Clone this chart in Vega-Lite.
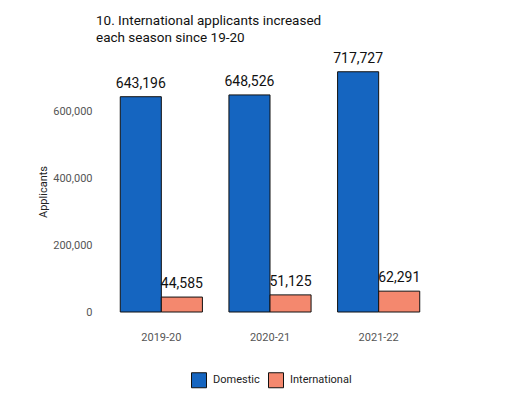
{
  "$schema": "https://vega.github.io/schema/vega-lite/v6.json",
  "autosize": {"type": "none"},
  "padding": {"left": 107, "top": 71, "right": 91, "bottom": 93},
  "width": 326,
  "height": 241,
  "title": {
    "text": ["10. International applicants increased", "each season since 19-20"],
    "anchor": "start",
    "frame": "group",
    "dx": -11,
    "offset": 7,
    "fontSize": 13.5,
    "fontWeight": "normal",
    "color": "#111",
    "lineHeight": 17
  },
  "data": {
    "values": [
      {"season": "2019-20", "type": "Domestic", "applicants": 643196},
      {"season": "2019-20", "type": "International", "applicants": 44585},
      {"season": "2020-21", "type": "Domestic", "applicants": 648526},
      {"season": "2020-21", "type": "International", "applicants": 51125},
      {"season": "2021-22", "type": "Domestic", "applicants": 717727},
      {"season": "2021-22", "type": "International", "applicants": 62291}
    ]
  },
  "encoding": {
    "x": {
      "field": "season", "type": "nominal", "title": null,
      "scale": {"paddingInner": 0.244, "paddingOuter": 0.122},
      "axis": {"labelAngle": 0, "domain": false, "ticks": false, "labelPadding": 19, "labelFontSize": 11, "labelColor": "#555"}
    },
    "xOffset": {"field": "type", "type": "nominal", "scale": {"paddingInner": 0, "paddingOuter": 0}},
    "y": {
      "field": "applicants", "type": "quantitative", "title": "Applicants",
      "scale": {"domain": [0, 720000], "nice": false},
      "axis": {"values": [0, 200000, 400000, 600000], "format": ",d", "domain": false, "ticks": false, "grid": false,
               "labelPadding": 15, "labelFontSize": 11, "labelColor": "#555",
               "titleFontSize": 11, "titleFontWeight": "normal", "titleColor": "#222", "titlePadding": 4}
    }
  },
  "layer": [
    {
      "mark": {"type": "bar", "stroke": "#111", "strokeWidth": 1},
      "encoding": {
        "color": {
          "field": "type", "type": "nominal", "title": null,
          "scale": {"domain": ["Domestic", "International"], "range": ["#1565c0", "#f4886e"]},
          "legend": {"orient": "none", "legendX": 84, "legendY": 301, "direction": "horizontal",
                     "symbolType": "square", "symbolSize": 225, "symbolStrokeColor": "#111", "symbolStrokeWidth": 1,
                     "symbolOpacity": 1, "labelFontSize": 11, "labelColor": "#222", "labelOffset": 6, "columnPadding": 6}
        }
      }
    },
    {
      "mark": {"type": "text", "dy": -9, "baseline": "alphabetic", "fontSize": 14, "color": "#111"},
      "encoding": {"text": {"field": "applicants", "type": "quantitative", "format": ","}}
    }
  ],
  "config": {
    "font": "Roboto",
    "view": {"stroke": null}
  }
}
